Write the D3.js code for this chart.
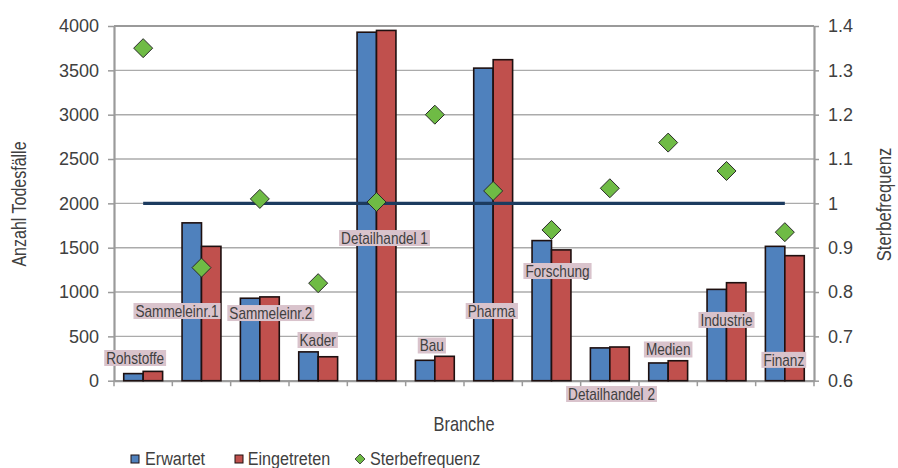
<!DOCTYPE html>
<html><head><meta charset="utf-8">
<script src="https://cdn.jsdelivr.net/npm/d3@7"></script>
<style>
html,body{margin:0;padding:0;background:#fff;}
svg{display:block;}
text{font-family:"Liberation Sans",Arial,sans-serif;fill:#404040;}
</style></head>
<body>
<svg id="chart" width="898" height="468"></svg>
<script>
const categories = ["Rohstoffe","Sammeleinr.1","Sammeleinr.2","Kader","Detailhandel 1","Bau","Pharma","Forschung","Detailhandel 2","Medien","Industrie","Finanz"];
const erwartet    = [80,1780,930,325,3930,230,3525,1580,370,200,1030,1515];
const eingetreten = [105,1515,945,270,3950,275,3620,1475,380,225,1105,1410];
const sterbefrequenz = [1.35,0.855,1.01,0.82,1.003,1.2,1.028,0.94,1.034,1.137,1.073,0.935];
const referenz = [1,1,1,1,1,1,1,1,1,1,1,1];
const seriesNames = ["Erwartet","Eingetreten","Sterbefrequenz"];
const leftTicks = [0,500,1000,1500,2000,2500,3000,3500,4000];
const rightTicks = [0.6,0.7,0.8,0.9,1.0,1.1,1.2,1.3,1.4];
const leftTitle = "Anzahl Todesfälle";
const rightTitle = "Sterbefrequenz";
const xTitle = "Branche";
// label layout (offset from band centre in px, vertical anchor in left-axis units)
const labelDx = [-8,-24.5,11,-0.5,8,-3,-1.7,6,1.7,0,0,-1];
const labelAt = [256,786,763,459,1609,397,786,1237,-150,352,685,235];

const colors = {Erwartet:"#4f81bd", Eingetreten:"#c0504d", Sterbefrequenz:"#6fbb45"};
const svg = d3.select("#chart");
const L = 114, R = 814, T = 26, B = 380.7;

const x = d3.scaleBand().domain(categories).range([L, R]).padding(0);
const bw = x.bandwidth();
const x1 = d3.scaleBand().domain(["Erwartet","Eingetreten"]).range([bw/6, bw*5/6]).padding(0);
const yL = d3.scaleLinear().domain([0,4000]).range([B, T]);
const yR = d3.scaleLinear().domain([0.6,1.4]).range([B, T]);

// gridlines
svg.append("g").selectAll("line").data(leftTicks).join("line")
  .attr("x1", L).attr("x2", R)
  .attr("y1", d=>yL(d)).attr("y2", d=>yL(d))
  .attr("stroke", d=> d===4000 ? "#9a9a9a" : "#ababab")
  .attr("stroke-width", d=> d===4000 ? 2 : 1.4);

// left axis
const gL = svg.append("g").attr("transform", `translate(${L},0)`)
  .call(d3.axisLeft(yL).tickValues(leftTicks).tickSize(6).tickPadding(9).tickSizeOuter(0)
        .tickFormat(d3.format("d")));
// right axis
const gR = svg.append("g").attr("transform", `translate(${R},0)`)
  .call(d3.axisRight(yR).tickValues(rightTicks).tickSize(5).tickPadding(9).tickSizeOuter(0)
        .tickFormat(d=> Math.abs(d-1)<1e-9 ? "1" : d3.format(".1f")(d)));
[gL, gR].forEach(g=>{
  g.select(".domain").attr("stroke","#9a9a9a").attr("stroke-width",2.2);
  g.selectAll(".tick line").attr("stroke","#9a9a9a").attr("stroke-width",1.5);
  g.selectAll(".tick text").style("font-size","18px").attr("fill","#404040");
});

// x axis
const gX = svg.append("g").attr("transform", `translate(0,${B})`)
  .call(d3.axisBottom(x).tickSize(0).tickFormat(""));
gX.select(".domain").attr("stroke","#9a9a9a").attr("stroke-width",2);
const bounds = categories.map(c=>x(c)).concat([R]);
svg.append("g").selectAll("line").data(bounds).join("line")
  .attr("x1", d=>d).attr("x2", d=>d).attr("y1", B).attr("y2", B+5.5)
  .attr("stroke","#9a9a9a").attr("stroke-width",1.5);

// bars
const barData = categories.map((c,i)=>({c, vals:[{k:"Erwartet",v:erwartet[i]},{k:"Eingetreten",v:eingetreten[i]}]}));
svg.append("g").selectAll("g").data(barData).join("g")
  .attr("transform", d=>`translate(${x(d.c)},0)`)
  .selectAll("rect").data(d=>d.vals).join("rect")
  .attr("x", d=>x1(d.k)).attr("width", x1.bandwidth())
  .attr("y", d=>yL(d.v)).attr("height", d=>B - yL(d.v))
  .attr("fill", d=>colors[d.k]).attr("stroke","#1e1010").attr("stroke-width",1.6);

// reference line
const line = d3.line().x((d,i)=>x(categories[i]) + bw/2).y(d=>yR(d));
svg.append("path").datum(referenz).attr("d", line)
  .attr("fill","none").attr("stroke","#1c3b5f").attr("stroke-width",3.2);

// markers
const diamond = (h)=>`M0,${-h}L${h},0L0,${h}L${-h},0Z`;
svg.append("g").selectAll("path").data(sterbefrequenz).join("path")
  .attr("transform", (d,i)=>`translate(${x(categories[i])+bw/2},${yR(d)})`)
  .attr("d", diamond(9.5))
  .attr("fill", colors.Sterbefrequenz).attr("stroke","#2a2a2a").attr("stroke-width",1);

// scaled text helper
function stext(parent, tx, ty, str, size, sx, anchor, rot){
  const g = parent.append("g").attr("transform", `translate(${tx},${ty})` + (rot?` rotate(${rot})`:"") + ` scale(${sx},1)`);
  const t = g.append("text").text(str).style("font-size", size+"px").attr("text-anchor", anchor||"start");
  return {g, t};
}

// category labels
const gLab = svg.append("g");
categories.forEach((c,i)=>{
  const cx = x(c) + bw/2 + labelDx[i];
  const cy = yL(labelAt[i]);
  const s = 0.85;
  const {g, t} = stext(gLab, cx, cy, c, 16, s, "middle");
  t.attr("dy","0.36em").attr("fill","#3a3a3a");
  const bb = t.node().getBBox();
  const padX = 2/s;
  g.insert("rect","text")
    .attr("x", bb.x - padX).attr("width", bb.width + 2*padX)
    .attr("y", -8).attr("height", 16)
    .attr("fill","#d9c3cc");
});

// axis titles
stext(svg, 464, 431, xTitle, 20, 0.82, "middle");
stext(svg, 25.5, 204, leftTitle, 20, 0.8, "middle", -90);
stext(svg, 891, 204.5, rightTitle, 20, 0.83, "middle", -90);

// legend
const lg = svg.append("g");
const legendPos = [{k:"Erwartet", m:135, t:145},{k:"Eingetreten", m:239, t:247.7},{k:"Sterbefrequenz", m:360, t:370}];
legendPos.forEach(p=>{
  if(p.k==="Sterbefrequenz"){
    lg.append("path").attr("transform",`translate(${p.m},459)`).attr("d", diamond(5))
      .attr("fill", colors[p.k]).attr("stroke","#2a2a2a").attr("stroke-width",0.8);
  } else {
    lg.append("rect").attr("x", p.m-4).attr("y", 455).attr("width", 8).attr("height", 8)
      .attr("fill", colors[p.k]).attr("stroke","#1e1010").attr("stroke-width",1);
  }
  stext(lg, p.t, 464.5, p.k, 19, 0.85, "start");
});
</script>
</body></html>
